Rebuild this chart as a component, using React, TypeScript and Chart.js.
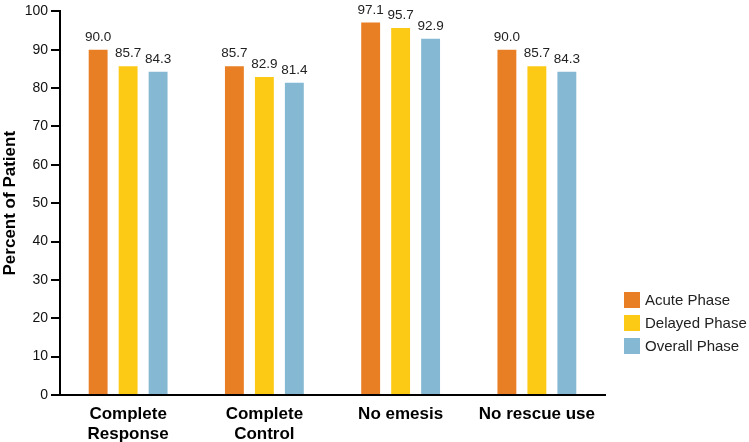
import React, { useEffect, useRef } from "react";
import { Chart, registerables } from "chart.js";

Chart.register(...registerables);

const categories: (string | string[])[] = [
  ["Complete", "Response"],
  ["Complete", "Control"],
  "No emesis",
  "No rescue use",
];
const acutePhase = [90.0, 85.7, 97.1, 90.0];
const delayedPhase = [85.7, 82.9, 95.7, 85.7];
const overallPhase = [84.3, 81.4, 92.9, 84.3];
const seriesNames = ["Acute Phase", "Delayed Phase", "Overall Phase"];
const seriesColors = ["#E97F24", "#FCC914", "#85B8D2"];

const FONT = "'Liberation Sans', Arial, Helvetica, sans-serif";

// Value labels above each bar
const valueLabels = {
  id: "valueLabels",
  afterDatasetsDraw(chart: any) {
    const ctx = chart.ctx;
    ctx.save();
    ctx.font = `13.5px ${FONT}`;
    ctx.fillStyle = "#222";
    ctx.textAlign = "center";
    ctx.textBaseline = "alphabetic";
    chart.data.datasets.forEach((ds: any, i: number) => {
      const meta = chart.getDatasetMeta(i);
      meta.data.forEach((bar: any, j: number) => {
        ctx.fillText(Number(ds.data[j]).toFixed(1), bar.x, bar.y - 9);
      });
    });
    ctx.restore();
  },
};

// Legend drawn at the lower right, beside the plot
const sideLegend = {
  id: "sideLegend",
  afterDraw(chart: any) {
    const ctx = chart.ctx;
    ctx.save();
    ctx.font = `15px ${FONT}`;
    ctx.textBaseline = "middle";
    ctx.textAlign = "left";
    const x0 = 624;
    const y0 = 300;
    const gap = 23;
    chart.data.datasets.forEach((ds: any, i: number) => {
      const y = y0 + i * gap;
      ctx.fillStyle = ds.backgroundColor;
      ctx.fillRect(x0, y - 8, 16, 16);
      ctx.fillStyle = "#222";
      ctx.fillText(ds.label, x0 + 21, y + 1);
    });
    ctx.restore();
  },
};

export default function App() {
  const canvasRef = useRef<HTMLCanvasElement>(null);

  useEffect(() => {
    if (!canvasRef.current) return;
    const series = [acutePhase, delayedPhase, overallPhase];
    const chart = new Chart(canvasRef.current, {
      type: "bar",
      data: {
        labels: categories,
        datasets: series.map((data, i) => ({
          label: seriesNames[i],
          data,
          backgroundColor: seriesColors[i],
          categoryPercentage: 0.66,
          barPercentage: 0.63,
        })),
      },
      options: {
        responsive: false,
        animation: false,
        layout: { padding: { top: 6, right: 144, left: 0, bottom: 0 } },
        plugins: {
          legend: { display: false },
          tooltip: { enabled: false },
        },
        scales: {
          x: {
            grid: { display: false, drawTicks: false },
            border: { color: "#000", width: 2 },
            ticks: {
              color: "#000",
              font: { family: FONT, size: 17, weight: "bold" },
              padding: 9,
              maxRotation: 0,
            },
            afterFit(scale: any) {
              scale.height = 47;
            },
          },
          y: {
            min: 0,
            max: 100,
            ticks: {
              stepSize: 10,
              color: "#111",
              font: { family: FONT, size: 14 },
              padding: 3,
            },
            grid: {
              drawOnChartArea: false,
              drawTicks: true,
              tickLength: 9,
              color: "#000",
              lineWidth: 2,
            },
            border: { color: "#000", width: 2 },
            title: {
              display: true,
              text: "Percent of Patient",
              color: "#000",
              font: { family: FONT, size: 17, weight: "bold" },
              padding: { top: 0, bottom: 2 },
            },
            afterFit(scale: any) {
              scale.width = 60;
            },
          },
        },
      },
      plugins: [valueLabels, sideLegend],
    });
    return () => chart.destroy();
  }, []);

  return (
    <div style={{ position: "fixed", left: 0, top: 0, width: 749, height: 442, background: "#fff" }}>
      <canvas ref={canvasRef} width={749} height={442} />
    </div>
  );
}
